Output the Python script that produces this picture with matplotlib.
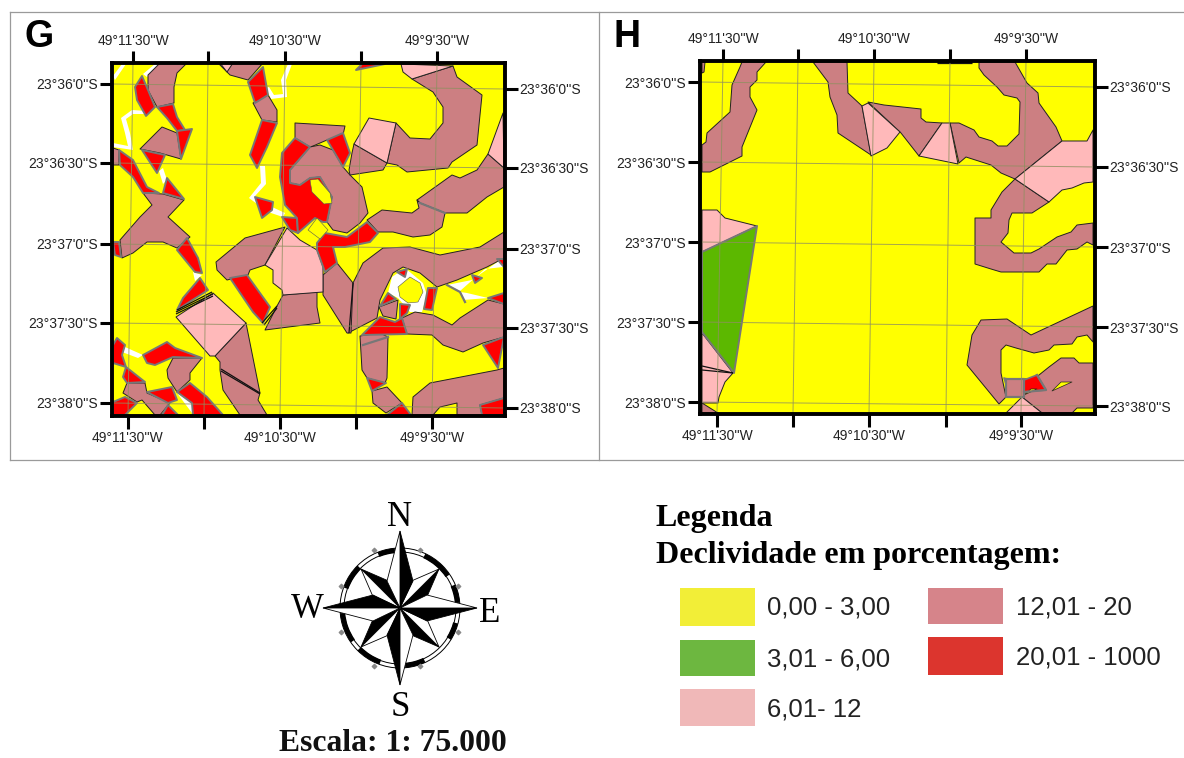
import matplotlib
matplotlib.use("Agg")
import matplotlib.pyplot as plt
from matplotlib.patches import Polygon, Rectangle, Wedge, Circle

W, H = 1184, 758
SANS = "Liberation Sans"
SERIF = "Liberation Serif"

C_YELLOW, C_GREEN, C_PINK, C_ROSE, C_RED = "#FFFF00", "#5CB800", "#FFB9BA", "#CC7F82", "#FF0000"

LON_LABELS = ["49°11'30''W", "", "49°10'30''W", "", "49°9'30''W"]
LAT_LABELS = ["23°36'0''S", "23°36'30''S", "23°37'0''S", "23°37'30''S", "23°38'0''S"]

# ---- panel G (map read in image pixels)
G_BOX = (112, 505, 416, 63)
G_TOP = [133, 208, 285, 361, 437]
G_BOTTOM = [128, 204, 280, 356, 432]
G_LEFT = [84, 163, 244, 323, 403]
G_RIGHT = [89, 168, 249, 328, 408]

G_WHITE = [
    [(113,143),(128,146),(125,133),(121,118),(132,110),(147,111),(147,114),(133,114),(126,119),(130,133),(133,150),(113,147)],
    [(113,76),(122,64),(126,64),(115,80)],
    [(143,74),(155,64),(160,64),(147,77)],
    [(159,171),(163,168),(167,180),(163,184)],
    [(260,166),(265,166),(266,184),(255,196),(272,207),(285,213),(283,217),(268,212),(249,198),(261,183)],
    [(288,64),(292,64),(286,80),(287,97),(271,99),(266,88),(269,87),(274,95),(283,94),(281,80)],
    [(392,277),(405,268),(423,283),(427,295),(422,312),(410,312),(398,298),(388,293)],
    [(447,285),(472,280),(503,258),(503,267),(485,269),(460,291),(452,287)],
    [(460,292),(467,293),(488,298),(463,300)],
    [(125,347),(143,355),(138,358),(122,352)],
    [(193,272),(202,275),(195,281)],
    [(177,393),(192,403),(192,413)],
]
G_ROSE = [
    [(160,63),(187,63),(177,73),(174,87),(174,103),(157,107),(148,90),(148,75)],
    [(162,127),(177,133),(181,159),(160,153),(140,149)],
    [(113,148),(119,150),(119,165),(113,165)],
    [(143,193),(163,194),(184,200),(168,217),(190,237),(177,248),(163,242),(147,242),(133,253),(122,258),(120,240),(140,217),(152,205)],
    [(246,323),(260,393),(258,400),(267,415),(240,415),(223,390),(220,370),(220,362),(215,356)],
    [(245,238),(285,227),(265,265),(250,270),(248,275),(227,280),(217,270),(216,262)],
    [(283,295),(317,292),(317,307),(320,323),(265,330),(277,306)],
    [(173,358),(202,358),(190,373),(190,380),(177,392),(168,378),(167,370)],
    [(127,383),(145,383),(147,393),(170,403),(160,415),(155,415),(142,400),(137,402),(123,393)],
    [(218,63),(263,63),(248,80),(230,75)],
    [(268,95),(277,110),(277,122),(262,120),(253,103)],
    [(295,123),(345,126),(343,135),(327,140),(313,146),(310,147),(295,138)],
    [(310,147),(320,145),(333,150),(343,167),(350,175),(362,187),(368,213),(360,223),(347,233),(333,230),(327,222),(332,197),(320,177),(310,178),(300,185),(290,183),(290,170)],
    [(354,144),(387,163),(383,170),(350,175),(349,170),(352,153)],
    [(412,79),(453,66),(457,77),(482,95),(477,145),(452,162),(448,168),(407,172),(397,165),(387,163),(396,123),(410,138),(430,139),(443,123),(443,107),(433,92)],
    [(488,154),(504,168),(504,187),(487,197),(467,213),(445,213),(420,203),(417,200),(452,175),(460,178),(477,170)],
    [(417,200),(420,203),(445,213),(442,227),(430,235),(413,237),(393,232),(378,232),(367,220),(382,210),(412,213),(419,208)],
    [(504,232),(480,247),(440,255),(410,247),(383,248),(363,263),(353,283),(348,333),(377,318),(380,300),(393,273),(403,267),(420,273),(437,287),(457,280),(487,267),(504,258)],
    [(323,275),(337,263),(353,283),(351,333),(347,333),(323,295)],
    [(379,307),(398,300),(396,319),(383,316)],
    [(402,318),(415,312),(433,315),(452,325),(460,318),(488,300),(504,304),(504,337),(483,343),(463,352),(443,345),(432,335),(407,334)],
    [(360,336),(380,333),(388,337),(387,378),(385,383),(367,378),(362,370)],
    [(372,391),(387,387),(402,403),(386,413),(373,403)],
    [(413,397),(430,383),(497,370),(504,368),(504,398),(480,405),(482,415),(457,415),(457,403),(440,407),(433,415),(412,415)],
]
G_PINK = [
    [(213,293),(246,323),(215,356),(210,356),(176,317)],
    [(287,228),(300,240),(317,250),(323,267),(323,292),(283,295),(282,290),(273,283),(273,270),(265,265)],
    [(220,63),(233,63),(227,72)],
    [(369,118),(396,123),(387,163),(354,144)],
    [(401,64),(453,66),(412,79),(403,72)],
    [(503,113),(504,168),(488,154)],
]
G_RED = [
    [(142,76),(148,90),(155,107),(146,116),(137,100),(135,87)],
    [(157,107),(173,104),(177,117),(185,130),(177,131),(167,118)],
    [(177,131),(192,129),(181,159)],
    [(142,150),(165,155),(157,173)],
    [(119,150),(133,160),(147,187),(159,193),(143,193),(133,177),(120,165)],
    [(167,178),(184,199),(163,193)],
    [(113,242),(119,242),(121,257),(115,255)],
    [(187,238),(198,258),(202,273),(195,272),(177,250)],
    [(200,278),(208,290),(177,310),(183,298)],
    [(230,278),(247,275),(270,307),(263,323),(253,312)],
    [(117,338),(125,345),(122,355),(126,367),(113,363),(113,345)],
    [(143,355),(167,342),(175,348),(202,358),(173,357),(155,365),(147,363)],
    [(126,367),(145,382),(127,383),(123,377)],
    [(147,392),(172,387),(177,400),(168,403)],
    [(113,402),(125,397),(137,403),(125,415),(113,415)],
    [(168,405),(178,415),(162,415)],
    [(177,392),(190,383),(207,397),(223,415),(193,415),(192,403)],
    [(263,67),(268,95),(255,103),(248,82)],
    [(262,120),(277,123),(267,147),(257,168),(250,155)],
    [(255,197),(273,202),(272,210),(262,218)],
    [(282,217),(297,218),(298,233),(290,230)],
    [(295,138),(310,147),(290,170),(290,183),(300,185),(310,178),(320,177),(332,197),(327,222),(323,222),(315,218),(298,233),(297,218),(285,205),(280,177),(282,153)],
    [(327,140),(343,133),(350,153),(343,167),(333,150)],
    [(325,233),(347,237),(367,222),(378,233),(370,242),(345,247),(333,247),(337,263),(325,272),(317,250),(317,243)],
    [(356,70),(362,64),(385,64)],
    [(397,272),(407,269),(405,277)],
    [(428,288),(437,288),(432,310),(424,309)],
    [(388,293),(396,299),(380,306)],
    [(400,304),(410,305),(407,313),(400,319)],
    [(380,317),(395,322),(402,318),(407,334),(362,335)],
    [(488,298),(504,293),(504,304)],
    [(472,275),(482,278),(475,283)],
    [(497,259),(504,259),(504,267)],
    [(367,378),(386,383),(372,391)],
    [(402,403),(411,415),(387,415)],
    [(480,405),(504,398),(504,415),(482,415)],
    [(483,345),(504,337),(498,368)],
]
G_YELLOW = [
    [(310,180),(318,179),(330,193),(332,203),(324,204),(312,192)],
    [(317,218),(328,230),(320,239),(308,230)],
    [(410,277),(420,283),(423,292),(418,302),(408,303),(400,297),(398,287)],
]
G_BLACK = [
    [(177,310),(212,292)], [(176,312),(213,294)], [(176,314),(213,296)],
    [(221,369),(260,393)], [(221,371),(260,394)], [(353,283),(349,333)],
    [(262,323),(277,306)], [(264,325),(277,308)],
]
G_GRAY = [
    [(420,203),(445,213)], [(447,285),(460,292),(465,302)], [(363,345),(388,337)],
]

# ---- panel H
H_BOX = (700, 1095, 414, 61)
H_TOP = [723, 798, 874, 950, 1026]
H_BOTTOM = [717, 793, 869, 946, 1021]
H_LEFT = [82, 162, 242, 322, 402]
H_RIGHT = [87, 167, 247, 327, 406]

H_ROSE = [
    [(702,62),(705,62),(704,72),(702,73)],
    [(742,62),(766,62),(757,72),(757,80),(750,87),(750,97),(757,110),(742,147),(742,156),(710,172),(702,172),(702,145),(706,142),(707,133),(730,112),(732,85),(740,67)],
    [(813,62),(847,62),(848,93),(862,106),(871,155),(838,133),(837,115),(830,97),(828,82)],
    [(868,102),(884,105),(921,109),(921,118),(926,122),(942,123),(919,156),(901,133)],
    [(979,62),(1015,62),(1027,83),(1038,93),(1039,103),(1056,127),(1062,141),(1015,179),(1001,173),(991,165),(966,157),(959,163),(950,123),(959,123),(974,130),(979,137),(992,141),(998,146),(1007,146),(1019,134),(1020,102),(1017,98),(1004,95),(997,87),(984,75),(979,68)],
    [(1015,179),(1049,202),(1032,213),(1012,213),(1009,220),(1008,233),(1001,242),(1014,253),(1031,253),(1039,249),(1057,237),(1071,232),(1077,225),(1093,223),(1093,245),(1087,242),(1077,249),(1067,250),(1056,264),(1047,264),(1039,272),(1001,272),(991,269),(975,264),(975,218),(991,218),(991,210),(1002,192)],
    [(981,320),(1007,319),(1031,335),(1093,306),(1093,342),(1087,335),(1077,337),(1072,344),(1054,345),(1049,350),(1034,353),(1016,348),(1006,345),(1001,350),(1001,373),(1006,397),(999,404),(967,365),(972,335)],
    [(1006,379),(1034,379),(1049,367),(1061,358),(1074,358),(1079,363),(1093,363),(1093,408),(1077,408),(1072,413),(1042,413),(1022,397),(1006,397)],
    [(702,403),(718,413),(702,413)],
]
H_PINK = [
    [(862,106),(868,103),(900,132),(887,148),(871,156)],
    [(942,123),(950,123),(958,164),(919,156)],
    [(1062,141),(1087,141),(1093,130),(1093,182),(1084,183),(1072,188),(1062,190),(1049,202),(1015,179)],
    [(702,210),(717,210),(725,218),(757,226),(702,252)],
    [(702,333),(733,373),(725,382),(719,397),(718,403),(702,403)],
    [(1022,397),(1042,413),(1006,413)],
]
H_GREEN = [[(702,252),(757,226),(734,373),(702,332)]]
H_RED = [[(1024,380),(1037,375),(1046,390),(1024,392)], [(1004,378),(1006,379),(1006,384)]]
H_YELLOW = [
    [(1052,391),(1061,382),(1072,382)],
    [(1024,395),(1037,389),(1031,389)],
]
H_BLACK = [
    [(702,366),(733,373)], [(702,370),(733,373)],
    [(937,62),(972,62)], [(937,63),(972,63)],
]
H_GRAY = [
    [(1006,379),(1024,379),(1024,397),(1006,397),(1006,379)],
    [(1037,375),(1046,390),(1024,392)],
]

# ---- legend
LEGEND_A = ["0,00 - 3,00", "3,01 - 6,00", "6,01- 12"]
LEGEND_B = ["12,01 - 20", "20,01 - 1000"]
LEGEND_COL_A = ["#F2EE37", "#6DB740", "#F0B8B8"]
LEGEND_COL_B = ["#D6848A", "#DC352E"]

fig = plt.figure(figsize=(W / 100, H / 100), dpi=100, facecolor="white")


def draw_panel(box, top, bottom, left, right, layers, black, gray):
    l, r, b, t = box
    ax = fig.add_axes([l / W, 1 - b / H, (r - l) / W, (b - t) / H], zorder=3)
    ax.set_xlim(l, r)
    ax.set_ylim(b, t)
    ax.set_facecolor(C_YELLOW)
    for polys, fc, ec, lw in layers:
        for p in polys:
            ax.add_patch(Polygon(p, closed=True, facecolor=fc, edgecolor=ec, linewidth=lw, joinstyle="round"))
    for seg in black:
        ax.plot(*zip(*seg), color="#111111", lw=0.9, solid_capstyle="butt")
    for seg in gray:
        ax.plot(*zip(*seg), color="#777777", lw=1.6)
    # graticule
    for a, c in zip(top, bottom):
        ax.plot([a, c], [t, b], color="#8F8F60", lw=0.7, alpha=0.8)
    for a, c in zip(left, right):
        ax.plot([l, r], [a, c], color="#8F8F60", lw=0.7, alpha=0.8)
    ax.set_xlim(l, r)
    ax.set_ylim(b, t)
    for s in ax.spines.values():
        s.set_linewidth(2.8)
        s.set_color("black")
    tk = dict(length=9, width=2.2, color="black", labelsize=10, labelcolor="#222222", pad=1.5)
    ax.set_xticks(bottom, LON_LABELS)
    ax.set_yticks(left, LAT_LABELS)
    ax.tick_params(axis="both", **tk)
    for lab in ax.get_xticklabels() + ax.get_yticklabels():
        lab.set_fontfamily(SANS)
    sx = ax.secondary_xaxis("top")
    sx.set_xticks(top, LON_LABELS)
    sx.tick_params(**tk)
    sy = ax.secondary_yaxis("right")
    sy.set_yticks(right, LAT_LABELS)
    sy.tick_params(**tk)
    for s in (sx, sy):
        for k in s.spines.values():
            k.set_visible(False)
    for lab in sx.get_xticklabels() + sy.get_yticklabels():
        lab.set_fontfamily(SANS)
    return ax


GRAY_E = "#777777"
BLK_E = "#222222"
draw_panel(G_BOX, G_TOP, G_BOTTOM, G_LEFT, G_RIGHT,
           [(G_WHITE, "white", "none", 0),
            (G_ROSE, C_ROSE, BLK_E, 0.7),
            (G_PINK, C_PINK, BLK_E, 0.7),
            (G_RED, C_RED, GRAY_E, 1.4),
            (G_YELLOW, C_YELLOW, "#555555", 0.4)],
           G_BLACK, G_GRAY)
draw_panel(H_BOX, H_TOP, H_BOTTOM, H_LEFT, H_RIGHT,
           [(H_ROSE, C_ROSE, BLK_E, 0.7),
            (H_PINK, C_PINK, BLK_E, 0.7),
            (H_GREEN, C_GREEN, GRAY_E, 1.4),
            (H_RED, C_RED, GRAY_E, 1.2),
            (H_YELLOW, C_YELLOW, BLK_E, 0.5)],
           H_BLACK, H_GRAY)

# overlay in image pixels
bg = fig.add_axes([0, 0, 1, 1], zorder=1)
bg.set_xlim(0, W)
bg.set_ylim(H, 0)
bg.axis("off")
bg.plot([10, W], [12, 12], color="#9A9A9A", lw=0.9)
bg.plot([10, W], [459.5, 459.5], color="#9A9A9A", lw=0.9)
bg.plot([10, 10], [12, 459.5], color="#9A9A9A", lw=0.9)
bg.plot([599, 599], [12, 459.5], color="#9A9A9A", lw=0.9)
bg.text(24, 37, "G", fontfamily=SANS, fontweight="bold", fontsize=27, va="center", ha="left", color="black")
bg.text(614, 37, "H", fontfamily=SANS, fontweight="bold", fontsize=27, va="center", ha="left", color="black")

# compass
CX, CY = 400, 608
POINT_DIRS = [(0, -1), (1, 0), (0, 1), (-1, 0)]
DIAG_DIRS = [(1, -1), (1, 1), (-1, 1), (-1, -1)]
RING_ARCS = [(5, 23), (34, 65), (95, 112), (135, 160), (185, 215), (225, 250), (275, 295), (328, 345)]
NOTCHES = [(-26, -58), (20, -58), (58, -22), (58, 24), (20, 58), (-26, 58), (-59, 24), (-59, -22)]
for a1, a2 in RING_ARCS:
    bg.add_patch(Wedge((CX, CY), 60, -a2, -a1, width=5, facecolor="black", edgecolor="none"))
bg.add_patch(Circle((CX, CY), 60, fill=False, ec="black", lw=0.7))
bg.add_patch(Circle((CX, CY), 56, fill=False, ec="black", lw=0.7))
bg.scatter([CX + n[0] for n in NOTCHES], [CY + n[1] for n in NOTCHES], marker="D", s=5, color="#888888", zorder=2)
for dx, dy in POINT_DIRS:
    px, py = -dy, dx  # clockwise side
    tip = (CX + 77 * dx, CY + 77 * dy)
    bg.add_patch(Polygon([(CX, CY), tip, (CX + 27 * dx + 13 * px, CY + 27 * dy + 13 * py)], fc="black", ec="black", lw=0.6, zorder=4))
    bg.add_patch(Polygon([(CX, CY), tip, (CX + 27 * dx - 13 * px, CY + 27 * dy - 13 * py)], fc="white", ec="black", lw=0.6, zorder=4))
for dx, dy in DIAG_DIRS:
    px, py = -dy, dx
    tip = (CX + 39 * dx, CY + 39 * dy)
    bg.add_patch(Polygon([(CX, CY), tip, (CX + 20 * dx + 7.5 * px, CY + 20 * dy + 7.5 * py)], fc="black", ec="black", lw=0.6, zorder=3))
    bg.add_patch(Polygon([(CX, CY), tip, (CX + 20 * dx - 7.5 * px, CY + 20 * dy - 7.5 * py)], fc="white", ec="black", lw=0.6, zorder=3))
for s, x, y in [("N", 400, 517), ("S", 400, 707), ("W", 307, 610), ("E", 490, 613)]:
    bg.text(x, y, s, fontfamily=SERIF, fontsize=25, ha="center", va="center", color="black")

bg.text(393, 751, "Escala: 1: 75.000", fontfamily=SERIF, fontweight="bold", fontsize=22.8, ha="center", va="baseline", color="#111111")
bg.text(656, 526, "Legenda", fontfamily=SERIF, fontweight="bold", fontsize=23, ha="left", va="baseline", color="black")
bg.text(656, 563, "Declividade em porcentagem:", fontfamily=SERIF, fontweight="bold", fontsize=23, ha="left", va="baseline", color="black")

for label, col, (y0, y1), ty in zip(LEGEND_A, LEGEND_COL_A, [(588, 626), (640, 676), (689, 726)], [608, 660, 710]):
    bg.add_patch(Rectangle((680, y0), 75, y1 - y0, fc=col, ec="none"))
    bg.text(767, ty, label, fontfamily=SANS, fontsize=18.5, va="center", ha="left", color="#222222")
for label, col, (y0, y1), ty in zip(LEGEND_B, LEGEND_COL_B, [(588, 624), (637, 675)], [608, 657]):
    bg.add_patch(Rectangle((928, y0), 75, y1 - y0, fc=col, ec="none"))
    bg.text(1016, ty, label, fontfamily=SANS, fontsize=18.5, va="center", ha="left", color="#222222")

fig.savefig("out.png", dpi=100, facecolor="white")
